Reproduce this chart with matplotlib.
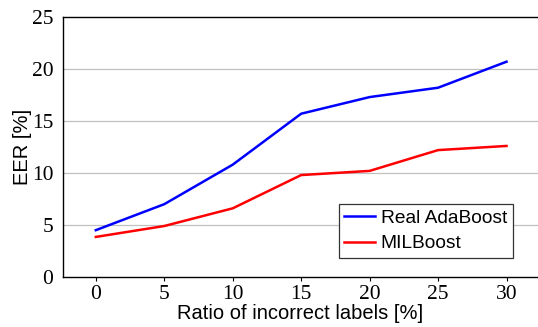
import matplotlib
matplotlib.use("Agg")
import matplotlib.pyplot as plt

ratios = [0, 5, 10, 15, 20, 25, 30]
real_adaboost = [4.5, 7.0, 10.8, 15.7, 17.3, 18.2, 20.7]
milboost = [3.85, 4.9, 6.6, 9.8, 10.2, 12.2, 12.6]
yticks = [0, 5, 10, 15, 20, 25]

fig = plt.figure(figsize=(5.38, 3.27), dpi=100)
ax = fig.add_axes([0.117, 0.153, 0.883, 0.795])

ax.plot(ratios, real_adaboost, color="#0000ff", lw=1.8, label="Real AdaBoost")
ax.plot(ratios, milboost, color="#ff0000", lw=1.8, label="MILBoost")

ax.set_xlim(-2.4, 32.3)
ax.set_ylim(0, 25)
ax.set_xticks(ratios)
ax.set_yticks(yticks)
for y in yticks[1:-1]:
    ax.axhline(y, color="#c0c0c0", lw=0.9, zorder=0)

serif = "Liberation Serif"
sans = "Liberation Sans"
for lbl in ax.get_xticklabels() + ax.get_yticklabels():
    lbl.set_fontfamily(serif)
    lbl.set_fontsize(15.5)
ax.tick_params(axis="y", length=0, pad=7)
ax.tick_params(axis="x", length=3, direction="out", width=0.8, pad=3)
ax.spines["right"].set_visible(False)
for s in ["left", "bottom", "top"]:
    ax.spines[s].set_linewidth(1.0)

ax.set_xlabel("Ratio of incorrect labels [%]", fontfamily=sans, fontsize=14.5, labelpad=0)
ax.set_ylabel("EER [%]", fontfamily=sans, fontsize=14.5, labelpad=0)

leg = ax.legend(loc="lower right", bbox_to_anchor=(0.947, 0.073), borderaxespad=0,
                prop={"family": sans, "size": 13.8},
                fancybox=False, edgecolor="#333333", framealpha=1, handlelength=1.6,
                handletextpad=0.3, borderpad=0.3, labelspacing=0.42)
leg.get_frame().set_linewidth(0.9)

fig.savefig("out.png", dpi=100)
